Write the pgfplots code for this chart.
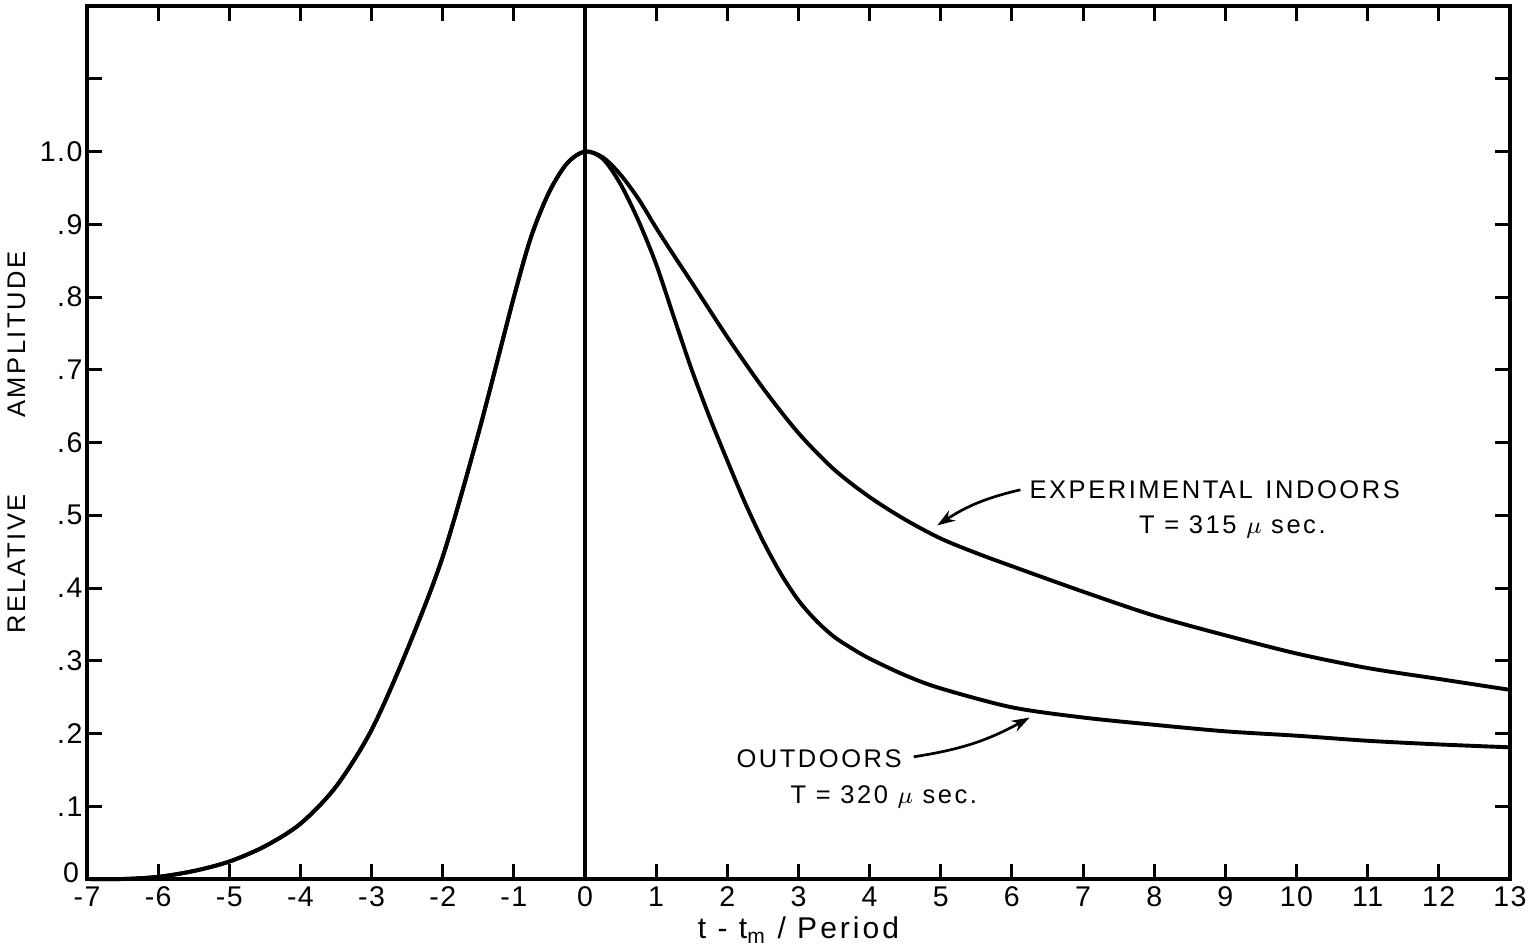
\documentclass[border=0pt]{standalone}
\usepackage{pgfplots}
\pgfplotsset{compat=1.18}
\usepackage{fontspec}
\setmainfont{Liberation Sans}
\newfontfamily\lettering[LetterSpace=10]{Liberation Sans}
\newfontfamily\tickfont[LetterSpace=5]{Liberation Sans}
\usetikzlibrary{arrows.meta}

% common rising side + outdoors branch
\pgfplotstableread{
x y
-7 0
-6.5 0
-6 0.003
-5.5 0.011
-5 0.024
-4.5 0.045
-4 0.076
-3.5 0.127
-3 0.205
-2.5 0.315
-2 0.443
-1.5 0.612
-1 0.80
-0.75 0.885
-0.5 0.945
-0.25 0.984
0 1.0
0.25 0.99
0.5 0.955
0.75 0.905
1 0.845
1.25 0.772
1.5 0.70
1.75 0.635
2 0.575
2.25 0.517
2.5 0.465
2.75 0.42
3 0.383
3.25 0.355
3.5 0.333
3.75 0.317
4 0.303
4.5 0.28
5 0.262
6 0.236
7 0.222
8 0.212
9 0.203
10 0.197
11 0.19
12 0.185
13 0.181
}\outdoors

% common rising side + indoors branch
\pgfplotstableread{
x y
-7 0
-6.5 0
-6 0.003
-5.5 0.011
-5 0.024
-4.5 0.045
-4 0.076
-3.5 0.127
-3 0.205
-2.5 0.315
-2 0.443
-1.5 0.612
-1 0.80
-0.75 0.885
-0.5 0.945
-0.25 0.984
0 1.0
0.25 0.992
0.5 0.968
0.75 0.935
1 0.895
1.25 0.857
1.5 0.82
2 0.745
2.5 0.675
3 0.613
3.5 0.563
4 0.525
4.5 0.494
5 0.468
5.5 0.448
6 0.43
7 0.395
8 0.362
9 0.335
10 0.31
11 0.29
12 0.275
13 0.26
}\indoors

\begin{document}
\begin{tikzpicture}
\begin{axis}[
    scale only axis,
    width=474.3pt, height=291pt,
    xmin=-7, xmax=13, ymin=0, ymax=1.2,
    axis line style={line width=1.2pt},
    tick style={line width=1pt, black},
    major tick length=5pt,
    tick align=inside,
    xtick={-7,...,13},
    xticklabels={-7,-6,-5,-4,-3,-2,-1,0,1,2,3,4,5,6,7,8,9,10,11,12,13},
    ytick={0,0.1,...,1.2},
    yticklabels={,.1,.2,.3,.4,.5,.6,.7,.8,.9,1.0,,},
    ticklabel style={font=\tickfont\fontsize{9.5}{10}\selectfont},
    xticklabel style={yshift=1pt},
    yticklabel style={xshift=2pt},
    xlabel={\lettering\fontsize{10}{11}\selectfont t - t\textsubscript{m} / Period},
    xlabel style={yshift=3.5pt},
    ylabel={\lettering\fontsize{8.5}{10}\selectfont RELATIVE\hspace{3em}AMPLITUDE},
    ylabel style={yshift=-2pt},
    clip=false,
]
\addplot[line width=1.3pt, smooth] table[x=x,y=y] {\outdoors};
\addplot[line width=1.3pt, smooth] table[x=x,y=y] {\indoors};
\addplot[line width=1.1pt] coordinates {(0,0) (0,1.2)};

% the zero of the y axis sits in the corner, just above the -7
\node[anchor=south east, inner sep=1pt, font=\tickfont\fontsize{9.5}{10}\selectfont] at ([xshift=-1.5pt,yshift=-2.5pt]axis cs:-7,0) {0};

\node[anchor=west, font=\lettering\fontsize{8.5}{10}\selectfont] at (axis cs:6.1,0.535) {EXPERIMENTAL\hspace{0.5em}INDOORS};
\node[font=\lettering\fontsize{8.5}{10}\selectfont] at (axis cs:9.1,0.484) {T = 315 $\mu$ sec.};
\draw[line width=0.9pt, -{Stealth[length=6pt,width=4pt]}] (axis cs:6.12,0.535) to[bend right=10] (axis cs:4.95,0.486);

\node[anchor=east, font=\lettering\fontsize{8.5}{10}\selectfont] at (axis cs:4.6,0.165) {OUTDOORS};
\node[font=\lettering\fontsize{8.5}{10}\selectfont] at (axis cs:4.2,0.113) {T = 320 $\mu$ sec.};
\draw[line width=0.9pt, -{Stealth[length=6pt,width=4pt]}] (axis cs:4.62,0.168) to[bend right=10] (axis cs:6.25,0.222);
\end{axis}
\pgfresetboundingbox
\path[use as bounding box] ([shift={(-29pt,-23.3pt)}]current axis.south west) rectangle ([shift={(6.7pt,2pt)}]current axis.north east);
\end{tikzpicture}
\end{document}
